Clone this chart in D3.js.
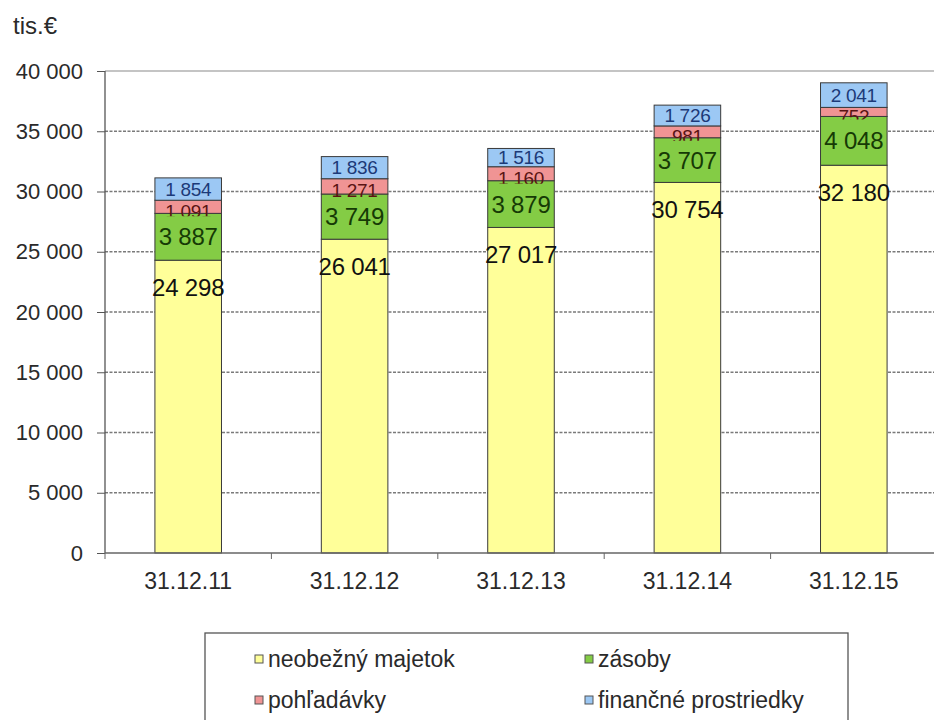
<!DOCTYPE html>
<html>
<head>
<meta charset="utf-8">
<script src="https://cdn.jsdelivr.net/npm/d3@7"></script>
<style>
  body { margin: 0; background: #fff; }
  svg { font-family: "Liberation Sans", Arial, sans-serif; }
</style>
</head>
<body>
<svg width="934" height="720"></svg>
<script>
// Data
const dates = ["31.12.11", "31.12.12", "31.12.13", "31.12.14", "31.12.15"];
const neobezny = [24298, 26041, 27017, 30754, 32180];
const zasoby = [3887, 3749, 3879, 3707, 4048];
const pohladavky = [1091, 1271, 1160, 981, 752];
const financne = [1854, 1836, 1516, 1726, 2041];
const yTicks = [0, 5000, 10000, 15000, 20000, 25000, 30000, 35000, 40000];

const seriesNames = ["neobežný majetok", "zásoby", "pohľadávky", "finančné prostriedky"];
const seriesValues = [neobezny, zasoby, pohladavky, financne];
const fills = ["#ffff99", "#84cc45", "#f09494", "#9cc8f4"];
const labelColors = ["#111", "#163a05", "#5a1414", "#1c3a78"];

const margin = {top: 71, right: -3, bottom: 167, left: 105};
const width = 934 - margin.left - margin.right;
const height = 720 - margin.top - margin.bottom;

const fmt = d3.formatLocale({decimal: ",", thousands: "\u00a0", grouping: [3], currency: ["", "€"]}).format(",d");

const svg = d3.select("svg");
const g = svg.append("g").attr("transform", `translate(${margin.left},${margin.top})`);

// Build stacked table
const table = dates.map((d, i) => {
    const row = {date: d};
    seriesNames.forEach((s, j) => row[s] = seriesValues[j][i]);
    return row;
});
const stack = d3.stack().keys(seriesNames)(table);

const x = d3.scaleBand().domain(dates).range([0, width]).paddingInner(0.6).paddingOuter(0.3);
const xOuter = d3.scaleBand().domain(dates).range([0, width]);
const y = d3.scaleLinear().domain([0, 40000]).range([height, 0]);

// unit label
svg.append("text").attr("x", 13).attr("y", 34)
   .attr("font-size", 24).attr("fill", "#2a2a2a").text("tis.€");

// gridlines
g.selectAll(".grid").data(yTicks.filter(t => t > 0)).enter()
 .append("line")
 .attr("x1", 0).attr("x2", width)
 .attr("y1", d => y(d)).attr("y2", d => y(d))
 .attr("stroke", d => d === 40000 ? "#b0b0b0" : "#7a7a7a")
 .attr("stroke-width", 1.5)
 .attr("stroke-dasharray", d => d === 40000 ? null : "3,1.5");

// y axis
const yAxis = g.append("g")
  .call(d3.axisLeft(y).tickValues(yTicks).tickSize(8).tickPadding(14).tickFormat(fmt));
yAxis.select(".domain").attr("stroke", "#555").attr("stroke-width", 1.3).attr("d", `M0,${height}V0`);
yAxis.selectAll(".tick line").attr("stroke", "#555");
yAxis.selectAll("text").attr("font-size", 22).attr("fill", "#2a2a2a").attr("font-family", "Liberation Sans, Arial");

// bars and labels per series
stack.forEach((layer, j) => {
    const lg = g.append("g");
    lg.selectAll("rect").data(layer).enter().append("rect")
      .attr("x", d => x(d.data.date))
      .attr("width", x.bandwidth())
      .attr("y", d => y(d[1]))
      .attr("height", d => y(d[0]) - y(d[1]))
      .attr("fill", fills[j])
      .attr("stroke", "#3a3a3a")
      .attr("stroke-width", 1);

    if (j === 2) {
        lg.selectAll("clipPath").data(layer).enter().append("clipPath")
          .attr("id", (d, i) => "clipRed" + i)
          .append("rect")
          .attr("x", d => x(d.data.date) - 4)
          .attr("width", x.bandwidth() + 8)
          .attr("y", d => y(d[1]))
          .attr("height", d => y(d[0]) - y(d[1]) + 3);
    }

    lg.selectAll("text").data(layer).enter().append("text")
      .attr("x", d => x(d.data.date) + x.bandwidth() / 2)
      .attr("y", d => {
          if (j === 0) return y(d[1]) + 27;
          if (j === 2) return (y(d[0]) + y(d[1])) / 2 + 4;
          return (y(d[0]) + y(d[1])) / 2;
      })
      .attr("dy", "0.36em")
      .attr("text-anchor", "middle")
      .attr("font-size", j >= 2 ? 19 : 24)
      .attr("letter-spacing", j >= 2 ? -0.3 : -0.2)
      .attr("fill", labelColors[j])
      .attr("clip-path", (d, i) => j === 2 ? `url(#clipRed${i})` : null)
      .text((d, i) => fmt(seriesValues[j][i]));
});

// x axis
const xAxis = g.append("g").attr("transform", `translate(0,${height})`);
xAxis.append("line").attr("x1", 0).attr("x2", width).attr("stroke", "#666").attr("stroke-width", 1.5);
xAxis.selectAll(".xt").data(dates).enter().append("line")
     .attr("x1", d => xOuter(d)).attr("x2", d => xOuter(d))
     .attr("y1", 0).attr("y2", 6).attr("stroke", "#666");
xAxis.selectAll(".xl").data(dates).enter().append("text")
     .attr("x", d => xOuter(d) + xOuter.bandwidth() / 2)
     .attr("y", 28)
     .attr("dy", "0.36em")
     .attr("text-anchor", "middle")
     .attr("font-size", 23).attr("fill", "#2a2a2a")
     .text(d => d);

// legend
const legend = svg.append("g").attr("transform", "translate(205,633)");
legend.append("rect").attr("x", 0).attr("y", 0).attr("width", 643).attr("height", 100)
      .attr("fill", "#fff").attr("stroke", "#555").attr("stroke-width", 1.3);
const legItems = legend.selectAll(".li").data(seriesNames).enter().append("g")
      .attr("transform", (d, i) => `translate(${i % 2 === 0 ? 50 : 380},${i < 2 ? 27 : 68})`);
legItems.append("rect").attr("x", 0).attr("y", -5).attr("width", 8).attr("height", 8)
      .attr("fill", (d, i) => fills[i]).attr("stroke", "#555");
legItems.append("text").attr("x", 13).attr("y", 0).attr("dy", "0.3em")
      .attr("font-size", 23).attr("fill", "#2a2a2a").text(d => d);
</script>
</body>
</html>
